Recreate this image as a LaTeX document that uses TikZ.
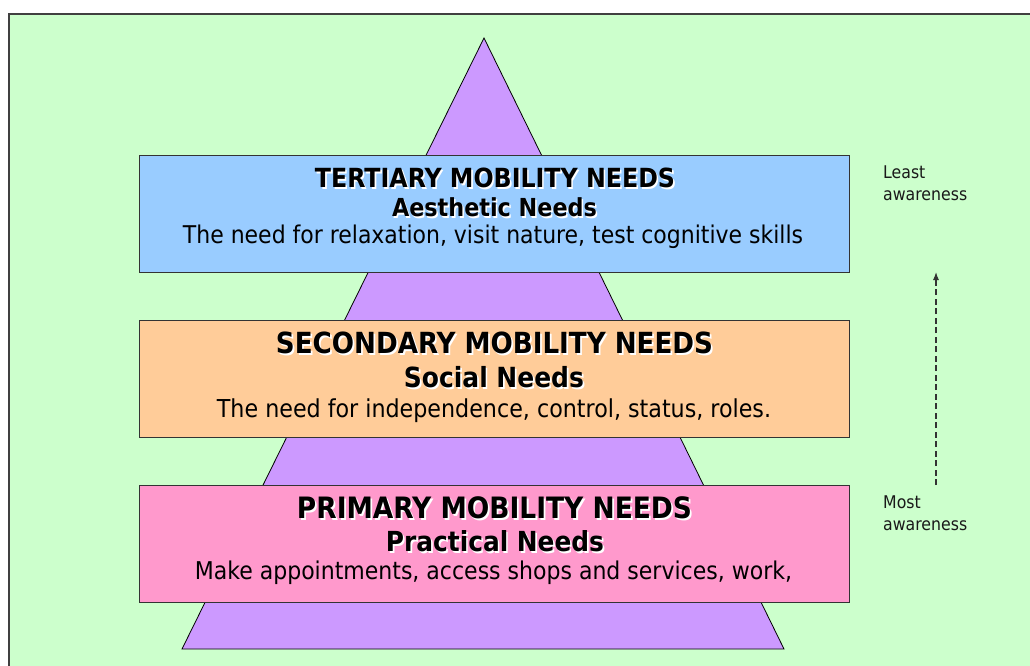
\documentclass[tikz,border=0pt]{standalone}
\usepackage{fontspec}
\setmainfont{DejaVu Sans Condensed}
\usetikzlibrary{arrows.meta}
\definecolor{bggreen}{HTML}{CCFFCC}
\definecolor{pyr}{HTML}{CC99FF}
\definecolor{tblue}{HTML}{99CCFF}
\definecolor{sorange}{HTML}{FFCC99}
\definecolor{ppink}{HTML}{FF99CC}
\newcommand{\shtxt}[2]{\resizebox{#1}{!}{\rlap{\kern0.06em\raisebox{-0.06em}{\color{white}#2}}#2}}
\newcommand{\fitw}[2]{\resizebox{#1}{!}{#2}}
\tikzset{
  needbox/.style={draw=black!80, line width=0.8pt},
  txt/.style={inner sep=0pt, anchor=center},
  side/.style={inner sep=0pt, anchor=north west, align=left, font=\fontsize{17.5}{22}\selectfont, text=black!90},
}
\begin{document}
\begin{tikzpicture}[x=1pt,y=-1pt]
\useasboundingbox (0,0) rectangle (1030,665);
\fill[bggreen] (9,14) rectangle (1040,675);
\draw[black!75, line width=1.2pt] (9,675) -- (9,14) -- (1040,14);
\draw[fill=pyr, line width=0.8pt] (484,38) -- (784,649) -- (182,649) -- cycle;
% boxes
\draw[needbox, fill=tblue] (139,155) rectangle (849,272);
\draw[needbox, fill=sorange] (139,320) rectangle (849,437);
\draw[needbox, fill=ppink] (139,485) rectangle (849,602);
% tertiary
\node[txt] (t1) at (495,179) {\shtxt{360pt}{\bfseries TERTIARY MOBILITY NEEDS}};
\node[txt] (t2) at (494.5,208) {\shtxt{205pt}{\bfseries Aesthetic Needs}};
\node[txt] (t3) at (493,237) {\fitw{620pt}{The need for relaxation, visit nature, test cognitive skills}};
% secondary
\node[txt] (s1) at (494.5,344) {\shtxt{437pt}{\bfseries SECONDARY MOBILITY NEEDS}};
\node[txt] (s2) at (494,378) {\shtxt{180pt}{\bfseries Social Needs}};
\node[txt] (s3) at (494,411) {\fitw{554pt}{The need for independence, control, status, roles.}};
% primary
\node[txt] (p1) at (494.5,509) {\shtxt{395pt}{\bfseries PRIMARY MOBILITY NEEDS}};
\node[txt] (p2) at (495,542) {\shtxt{218pt}{\bfseries Practical Needs}};
\node[txt] (p3) at (493.5,573) {\fitw{597pt}{Make appointments, access shops and services, work,}};
% side labels
\node[side] (least) at (883,166) {Least\\awareness};
\node[side] (most) at (883,496) {Most\\awareness};
\coordinate (arrowfrom) at (936,485);
\coordinate (arrowto) at (936,272);
\draw[dash pattern=on 6pt off 3.5pt, line width=1.1pt, black!80, -{Latex[length=8pt,width=6pt]}] (arrowfrom) -- (arrowto);
\end{tikzpicture}
\end{document}
